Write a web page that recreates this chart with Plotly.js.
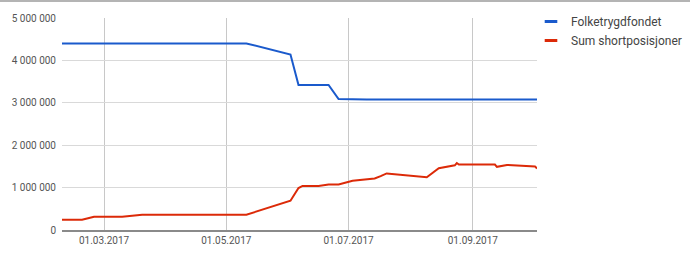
<!DOCTYPE html>
<html>
<head>
<meta charset="utf-8">
<script src="https://cdn.plot.ly/plotly-3.0.1.min.js"></script>
<style>
  html, body { margin: 0; padding: 0; background: #fff; }
  #wrap { position: relative; width: 690px; height: 259px; }
  #chart { width: 690px; height: 259px; }
  #topline { position: absolute; left: 0; top: 0; width: 690px; height: 0; border-top: 2px solid #b4b4b4; z-index: 5; }
</style>
</head>
<body>
<div id="wrap"><div id="chart"></div><div id="topline"></div></div>
<script>
// Series names
const seriesNames = ["Folketrygdfondet", "Sum shortposisjoner"];

// Folketrygdfondet
const folkDates = ["2017-02-08", "2017-05-11", "2017-06-02", "2017-06-06", "2017-06-21", "2017-06-26", "2017-07-10", "2017-10-03"];
const folkValues = [4400000, 4400000, 4140000, 3420000, 3420000, 3090000, 3075000, 3075000];

// Sum shortposisjoner
const shortDates = ["2017-02-08", "2017-02-18", "2017-02-24", "2017-03-10", "2017-03-20", "2017-05-11", "2017-06-02", "2017-06-06", "2017-06-08", "2017-06-16", "2017-06-21", "2017-06-26", "2017-07-03", "2017-07-14", "2017-07-17", "2017-07-20", "2017-08-09", "2017-08-15", "2017-08-23", "2017-08-24", "2017-08-25", "2017-09-12", "2017-09-13", "2017-09-18", "2017-10-02", "2017-10-03"];
const shortValues = [240000, 240000, 310000, 310000, 360000, 360000, 690000, 990000, 1040000, 1040000, 1075000, 1075000, 1160000, 1215000, 1270000, 1335000, 1245000, 1455000, 1525000, 1580000, 1545000, 1545000, 1490000, 1535000, 1500000, 1450000];

// Axis ticks
const xTickVals = ["2017-03-01", "2017-05-01", "2017-07-01", "2017-09-01"];
const xRange = ["2017-02-08", "2017-10-03"];
const yTickVals = [0, 1000000, 2000000, 3000000, 4000000, 5000000];

const colors = ["#1a5acc", "#dc2a08"];

const traces = [
  { x: folkDates, y: folkValues, type: "scatter", mode: "lines", name: seriesNames[0],
    line: { color: colors[0], width: 2 }, showlegend: false, hoverinfo: "x+y" },
  { x: shortDates, y: shortValues, type: "scatter", mode: "lines", name: seriesNames[1],
    line: { color: colors[1], width: 2 }, showlegend: false, hoverinfo: "x+y" },
  // legend entries (short line glyphs like the reference)
  { x: [null], y: [null], type: "scatter", mode: "markers", name: seriesNames[0],
    marker: { symbol: "line-ew", size: 9, color: colors[0], line: { color: colors[0], width: 3 } } },
  { x: [null], y: [null], type: "scatter", mode: "markers", name: seriesNames[1],
    marker: { symbol: "line-ew", size: 9, color: colors[1], line: { color: colors[1], width: 3 } } }
];

const layout = {
  width: 690, height: 259,
  margin: { l: 62, r: 153, t: 18, b: 29, pad: 0, autoexpand: false },
  paper_bgcolor: "#ffffff", plot_bgcolor: "#ffffff",
  separators: ", ",
  font: { family: "Roboto, Arial, sans-serif", size: 10, color: "#444" },
  showlegend: true,
  legend: {
    xref: "container", yref: "container",
    x: 531 / 690, y: 1 - 7 / 259, xanchor: "left", yanchor: "top",
    font: { family: "Roboto, Arial, sans-serif", size: 12, color: "#444" },
    bgcolor: "rgba(0,0,0,0)", borderwidth: 0, itemwidth: 30
  },
  xaxis: {
    type: "date", range: xRange, tickmode: "array", tickvals: xTickVals,
    tickformat: "%d.%m.%Y", showgrid: true, gridcolor: "#c8c8c8", gridwidth: 1,
    zeroline: false, showline: true, linecolor: "#8a8a8a", linewidth: 2,
    ticks: "", tickfont: { size: 10, color: "#555" }, fixedrange: true
  },
  yaxis: {
    range: [0, 5000000], tickmode: "array", tickvals: yTickVals,
    tickformat: ",d", showgrid: true, gridcolor: "#d9d9d9", gridwidth: 1,
    zeroline: false, showline: false, ticks: "", ticklabelstandoff: 5,
    tickfont: { size: 10, color: "#555" }, fixedrange: true
  }
};

Plotly.newPlot("chart", traces, layout, { staticPlot: true, displayModeBar: false });
</script>
</body>
</html>
